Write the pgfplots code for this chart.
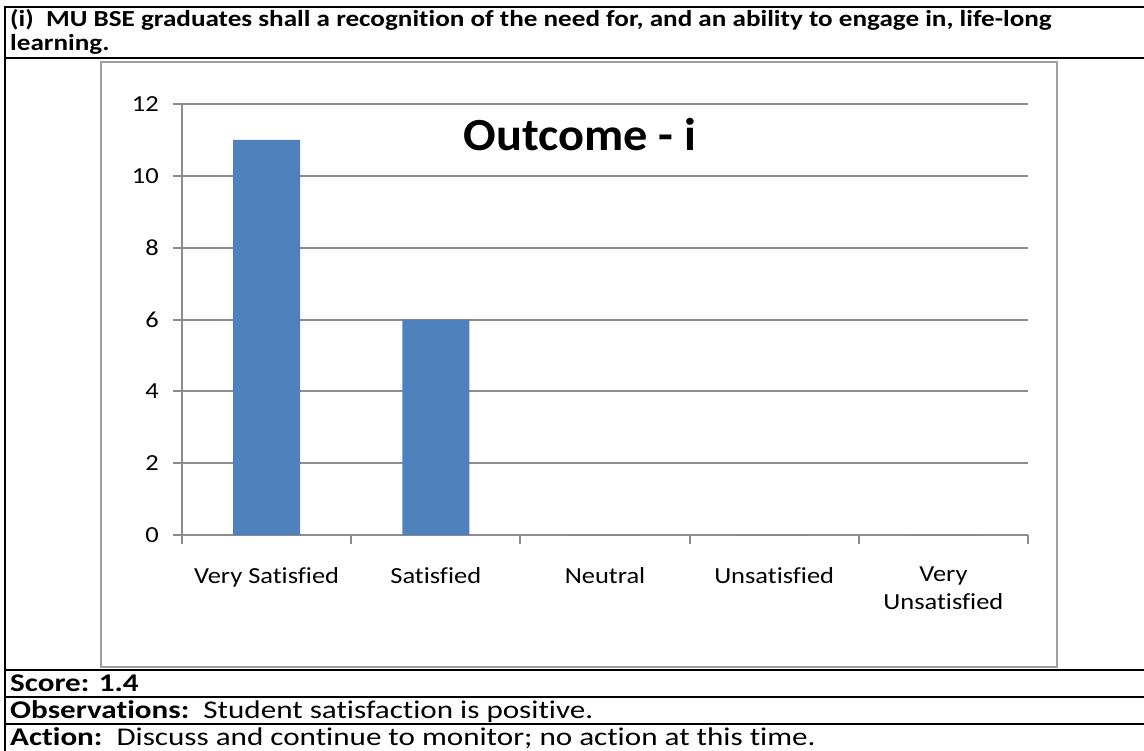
\documentclass[border=0pt]{standalone}
\usepackage{fontspec}
\setmainfont{Carlito}[Ligatures=NoCommon]
\newfontfamily\hdrfont{Carlito}[Ligatures=NoCommon, FakeStretch=1.18]
\newfontfamily\rowfont{Carlito}[Ligatures=NoCommon, FakeStretch=1.22]
\newfontfamily\labfont{Carlito}[Ligatures=NoCommon, FakeStretch=1.15]
\newfontfamily\ttlfont{Carlito}[Ligatures=NoCommon, FakeStretch=1.05]
\usepackage{pgfplots}
\pgfplotsset{compat=1.18}
\definecolor{barblue}{HTML}{4F81BD}
\definecolor{gridgray}{HTML}{8C8C8C}
\definecolor{boxgray}{HTML}{A0A0A0}
\begin{document}
\begin{tikzpicture}[x=1pt,y=-1pt]
\path[use as bounding box] (0,0) rectangle (1144,751);
% table rules
\draw[line width=2.2pt] (5,7) -- (1144,7);
\draw[line width=2.2pt] (5,58) -- (1144,58);
\draw[line width=2.2pt] (5,670) -- (1144,670);
\draw[line width=2.2pt] (5,697) -- (1144,697);
\draw[line width=2.2pt] (5,724) -- (1144,724);
\draw[line width=2.2pt] (5,6) -- (5,751);
% chart frame
\draw[boxgray, line width=2pt] (101,62) rectangle (1057,667);
% header
\node[anchor=base west, inner sep=0, font=\hdrfont\fontsize{23}{27}\selectfont\bfseries] at (10,26.5) {(i)\ \ MU BSE graduates shall a recognition of the need for, and an ability to engage in, life-long};
\node[anchor=base west, inner sep=0, font=\hdrfont\fontsize{23}{27}\selectfont\bfseries] at (10,51) {learning.};
% bottom rows
\node[anchor=base west, inner sep=0, font=\rowfont\fontsize{25.5}{28}\selectfont] at (10,691) {\textbf{Score: 1.4}};
\node[anchor=base west, inner sep=0, font=\rowfont\fontsize{25.5}{28}\selectfont] at (10,718) {\textbf{Observations:}\ \ Student satisfaction is positive.};
\node[anchor=base west, inner sep=0, font=\rowfont\fontsize{25.5}{28}\selectfont] at (10,745) {\textbf{Action:}\ \ Discuss and continue to monitor; no action at this time.};
\begin{axis}[
  at={(182pt,-535pt)}, anchor=south west,
  scale only axis, width=846pt, height=431pt,
  xmin=-0.5, xmax=4.5, ymin=0, ymax=12,
  ytick={0,2,...,12},
  xtick={-0.5,0.5,...,4.5},
  x tick label as interval,
  xticklabels={Very Satisfied,Satisfied,Neutral,Unsatisfied,{Very\\Unsatisfied}},
  axis x line*=bottom, axis y line*=left,
  axis line style={gridgray, line width=2pt},
  tick align=outside,
  major tick length=9pt,
  tick style={gridgray, line width=2pt},
  ymajorgrids, grid style={gridgray, line width=2pt},
  /pgf/number format/assume math mode=true,
  ticklabel style={font=\labfont\fontsize{23}{27.5}\selectfont},
  xticklabel style={align=center, anchor=north, inner sep=0pt, yshift=-23pt},
  yticklabel style={anchor=east, inner sep=0pt, xshift=-14pt},
  ybar, bar width=67pt,
]
\addplot[fill=barblue, draw=none] coordinates {(0,11) (1,6) (2,0) (3,0) (4,0)};
\end{axis}
\node[anchor=base, inner sep=0, font=\ttlfont\fontsize{46}{50}\selectfont\bfseries] at (580,151) {Outcome - i};
\end{tikzpicture}
\end{document}
